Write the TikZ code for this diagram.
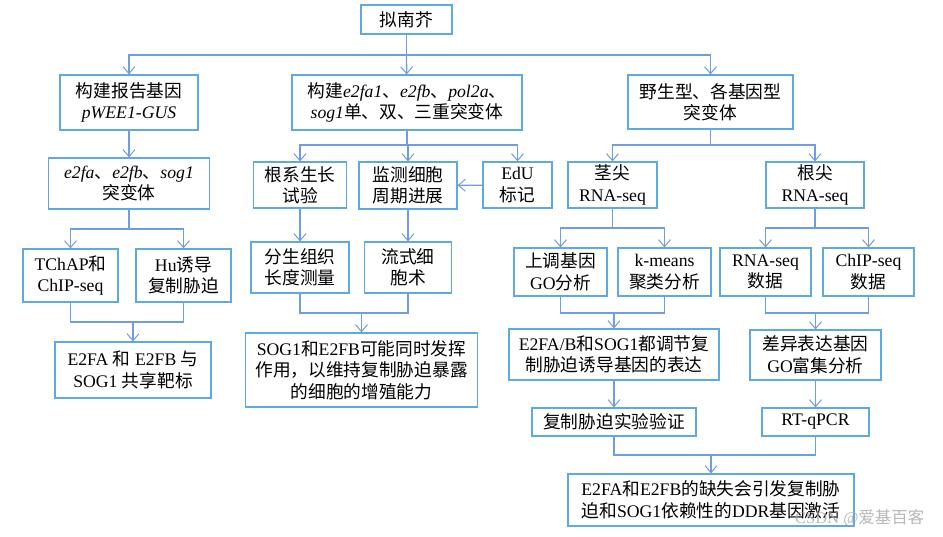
\documentclass[tikz,border=0pt]{standalone}
\usepackage{fontspec}
\setmainfont{Liberation Serif}
\newfontfamily\cjk{Noto Sans CJK SC}
\usetikzlibrary{arrows.meta}
\newcommand\zh[1]{{\cjk #1}}
\definecolor{boxc}{RGB}{93,170,224}
\definecolor{linec}{RGB}{112,156,226}
\tikzset{
  box/.style={draw=boxc, line width=1.2pt, align=center, inner sep=0pt,
    font=\fontsize{17.7}{21.5}\selectfont},
  link/.style={draw=linec, line width=1.3pt},
  arr/.style={link, -{Straight Barb[length=7pt,width=12pt,line width=1pt]}},
}
\begin{document}
\begin{tikzpicture}[x=1pt,y=-1pt]
\useasboundingbox[fill=white] (0,0) rectangle (943,537);

% level 0 and 1
\node[box, minimum width=91pt, minimum height=29pt] (root) at (406.5,19.5) {\zh{拟南芥}};
\node[box, minimum width=138pt, minimum height=55pt] (b1) at (129,102.5) {\zh{构建报告基因}\\\textit{pWEE1-GUS}};
\node[box, minimum width=230pt, minimum height=55pt] (b2) at (407,102.5) {\zh{构建}\textit{e2fa1}\zh{、}\textit{e2fb}\zh{、}\textit{pol2a}\zh{、}\\\textit{sog1}\zh{单、双、三重突变体}};
\node[box, minimum width=165pt, minimum height=54pt] (b3) at (710.5,102) {\zh{野生型、各基因型}\\\zh{突变体}};

% level 2
\node[box, minimum width=161pt, minimum height=51pt] (c1) at (129,183.5) {\textit{e2fa}\zh{、}\textit{e2fb}\zh{、}\textit{sog1}\\\zh{突变体}};
\node[box, minimum width=93pt, minimum height=46pt] (c2) at (300,185) {\zh{根系生长}\\\zh{试验}};
\node[box, minimum width=98pt, minimum height=47pt] (c3) at (408,185.5) {\zh{监测细胞}\\\zh{周期进展}};
\node[box, minimum width=69pt, minimum height=46pt] (c4) at (517.5,185) {EdU\\\zh{标记}};
\node[box, minimum width=89pt, minimum height=46pt] (c5) at (612.5,185) {\zh{茎尖}\\RNA-seq};
\node[box, minimum width=98pt, minimum height=46pt] (c6) at (815,185) {\zh{根尖}\\RNA-seq};

% level 3
\node[box, minimum width=95pt, minimum height=53pt] (d1) at (70.5,275.5) {TChAP\zh{和}\\ChIP-seq};
\node[box, minimum width=95pt, minimum height=53pt] (d2) at (183.5,275.5) {Hu\zh{诱导}\\\zh{复制胁迫}};
\node[box, minimum width=98pt, minimum height=51pt] (d3) at (300,267.5) {\zh{分生组织}\\\zh{长度测量}};
\node[box, minimum width=87pt, minimum height=51pt] (d4) at (408,267.5) {\zh{流式细}\\\zh{胞术}};
\node[box, minimum width=93pt, minimum height=48pt] (d5) at (560.5,272) {\zh{上调基因}\\GO\zh{分析}};
\node[box, minimum width=93pt, minimum height=48pt] (d6) at (664.5,272) {k-means\\\zh{聚类分析}};
\node[box, minimum width=91pt, minimum height=48pt] (d7) at (765.5,272) {RNA-seq\\\zh{数据}};
\node[box, minimum width=91pt, minimum height=48pt] (d8) at (868.5,272) {ChIP-seq\\\zh{数据}};

% level 4
\node[box, minimum width=156pt, minimum height=56pt] (e1) at (133,370) {E2FA \zh{和} E2FB \zh{与}\\SOG1 \zh{共享靶标}};
\node[box, minimum width=232pt, minimum height=74pt] (e2) at (361.5,370) {SOG1\zh{和}E2FB\zh{可能同时发挥}\\\zh{作用，以维持复制胁迫暴露}\\\zh{的细胞的增殖能力}};
\node[box, minimum width=210pt, minimum height=51pt] (e3) at (614,354.5) {E2FA/B\zh{和}SOG1\zh{都调节复}\\\zh{制胁迫诱导基因的表达}};
\node[box, minimum width=131pt, minimum height=50pt] (e4) at (815.5,355) {\zh{差异表达基因}\\GO\zh{富集分析}};

% level 5 and 6
\node[box, minimum width=164pt, minimum height=28pt] (f1) at (614,422) {\zh{复制胁迫实验验证}};
\node[box, minimum width=107pt, minimum height=28pt] (f2) at (815.5,422) {RT-qPCR};
\node[box, minimum width=286pt, minimum height=52pt] (g) at (711,500) {E2FA\zh{和}E2FB\zh{的缺失会引发复制胁}\\\zh{迫和}SOG1\zh{依赖性的}DDR\zh{基因激活}};

% junction points
\coordinate (j0) at (406.5,55);
\coordinate (j1) at (407,145);
\coordinate (j2) at (710.5,145);
\coordinate (j3) at (129,229);
\coordinate (j4) at (612.5,228);
\coordinate (j5) at (815,228);
\coordinate (m1) at (133,322);
\coordinate (m2) at (361.5,313);
\coordinate (m3) at (614,313);
\coordinate (m4) at (815.5,313);
\coordinate (m5) at (711,455);

% fan-out connectors
\draw[link] (root.south) -- (j0);
\draw[arr] (j0) -| (b1);
\draw[arr] (j0) -- (b2);
\draw[arr] (j0) -| (b3);

\draw[arr] (b1) -- (c1);

\draw[link] (b2.south) -- (j1);
\draw[arr] (j1) -| (c2);
\draw[arr] (j1) -| (c3);
\draw[arr] (j1) -| (c4);
\draw[arr] (c4) -- (c3);

\draw[link] (b3.south) -- (j2);
\draw[arr] (j2) -| (c5);
\draw[arr] (j2) -| (c6);

\draw[link] (c1.south) -- (j3);
\draw[arr] (j3) -| (d1);
\draw[arr] (j3) -| (d2);

\draw[arr] (c2) -- (d3);
\draw[arr] (c3) -- (d4);

\draw[link] (c5.south) -- (j4);
\draw[arr] (j4) -| (d5);
\draw[arr] (j4) -| (d6);

\draw[link] (c6.south) -- (j5);
\draw[arr] (j5) -| (d7);
\draw[arr] (j5) -| (d8);

% merging connectors
\draw[link] (d1.south) |- (m1) -| (d2.south);
\draw[arr] (m1) -- (e1);
\draw[link] (d3.south) |- (m2) -| (d4.south);
\draw[arr] (m2) -- (e2);
\draw[link] (d5.south) |- (m3) -| (d6.south);
\draw[arr] (m3) -- (e3);
\draw[link] (d7.south) |- (m4) -| (d8.south);
\draw[arr] (m4) -- (e4);

\draw[arr] (e3) -- (f1);
\draw[arr] (e4) -- (f2);

\draw[link] (f1.south) |- (m5) -| (f2.south);
\draw[arr] (m5) -- (g);

% watermark
\node[text=black!35, opacity=0.8, font=\fontsize{16.5}{16.5}\selectfont, anchor=east] (wm) at (928,518) {CSDN @\zh{爱基百客}};
\end{tikzpicture}
\end{document}
